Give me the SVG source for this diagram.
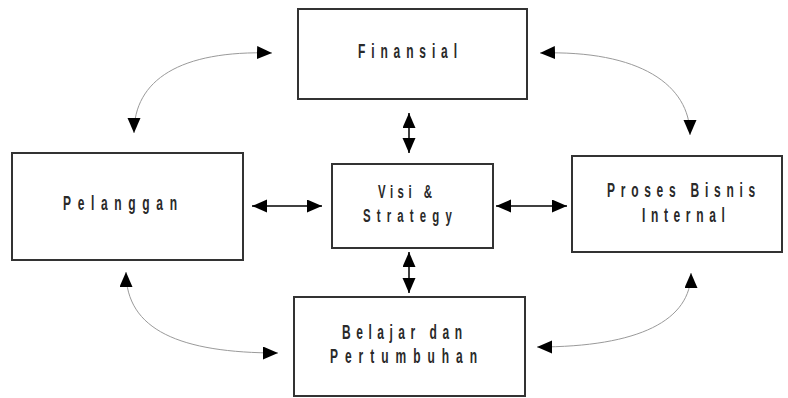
<svg xmlns="http://www.w3.org/2000/svg" width="788" height="398" viewBox="0 0 788 398">
<style>
.box{fill:#fff;stroke:#333;stroke-width:2}
.lbl{font-family:"Liberation Sans",Arial,sans-serif;font-size:20px;font-weight:bold;fill:#2a2a2a}
.sm{font-size:19px}
.st{fill:none;stroke:#000;stroke-width:1.5;marker-start:url(#ah);marker-end:url(#ah)}
.cv{fill:none;stroke:#9a9a9a;stroke-width:1;marker-start:url(#ah);marker-end:url(#ah)}
</style>
<defs>
<marker id="ah" markerUnits="userSpaceOnUse" markerWidth="16" markerHeight="14" refX="15" refY="6.5" orient="auto-start-reverse" viewBox="0 0 16 14">
<path d="M0,0 L15,6.5 L0,13 z" fill="#000"/>
</marker>
</defs>
<rect width="788" height="398" fill="#fff"/>
<g id="connectors">
<path class="st" d="M409 113 L409 153"/>
<path class="st" d="M409 252 L409 293"/>
<path class="st" d="M252 206 L322 206"/>
<path class="st" d="M496 206 L567 206"/>
<path class="cv" d="M272 53 C180 50 134 80 134 133"/>
<path class="cv" d="M540 53 C640 50 690 85 690 135"/>
<path class="cv" d="M126 272 C126 330 180 353 278 353"/>
<path class="cv" d="M691 273 C691 320 640 347 537 347"/>
</g>
<g id="finansial">
<rect class="box" x="298" y="9" width="229" height="90"/>
<text class="lbl" transform="translate(358,58) scale(0.6,1)" textLength="165" lengthAdjust="spacing">Finansial</text>
</g>
<g id="visi">
<rect class="box" x="332" y="164" width="161" height="84"/>
<text class="lbl sm" transform="translate(378,198) scale(0.6,1)" textLength="90" lengthAdjust="spacing">Visi &amp;</text>
<text class="lbl sm" transform="translate(363,222) scale(0.6,1)" textLength="148" lengthAdjust="spacing">Strategy</text>
</g>
<g id="pelanggan">
<rect class="box" x="12" y="153" width="231" height="107"/>
<text class="lbl" transform="translate(63,210) scale(0.6,1)" textLength="190" lengthAdjust="spacing">Pelanggan</text>
</g>
<g id="proses">
<rect class="box" x="572" y="156" width="210" height="96"/>
<text class="lbl" transform="translate(607,197) scale(0.6,1)" textLength="247" lengthAdjust="spacing">Proses Bisnis</text>
<text class="lbl" transform="translate(642,222) scale(0.6,1)" textLength="138" lengthAdjust="spacing">Internal</text>
</g>
<g id="belajar">
<rect class="box" x="294" y="297" width="231" height="99"/>
<text class="lbl" transform="translate(342,339) scale(0.6,1)" textLength="200" lengthAdjust="spacing">Belajar dan</text>
<text class="lbl" transform="translate(330,363) scale(0.6,1)" textLength="245" lengthAdjust="spacing">Pertumbuhan</text>
</g>
</svg>
